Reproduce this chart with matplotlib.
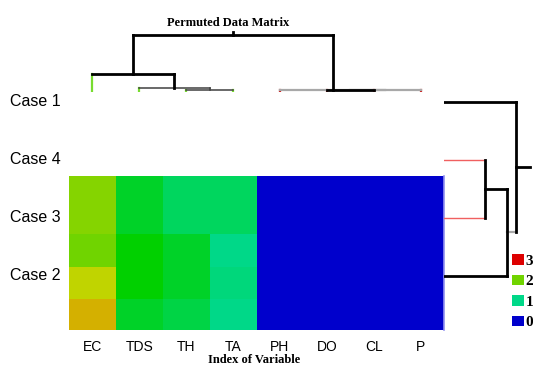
import matplotlib

matplotlib.use("Agg")

import matplotlib.pyplot as plt
import numpy as np
from matplotlib.colors import LinearSegmentedColormap, Normalize
from matplotlib.patches import Patch
from matplotlib.transforms import blended_transform_factory

VARIABLES = ["EC", "TDS", "TH", "TA", "PH", "DO", "CL", "P"]
CASES = ["Case 1", "Case 4", "Case 3", "Case 2"]

# matrix levels (0..3), top row first
LEVELS = [
    [2.10, 1.35, 1.15, 1.15, 0.0, 0.0, 0.0, 0.0],
    [2.00, 1.50, 1.35, 1.00, 0.0, 0.0, 0.0, 0.0],
    [2.40, 1.50, 1.35, 1.05, 0.0, 0.0, 0.0, 0.0],
    [2.60, 1.35, 1.25, 1.00, 0.0, 0.0, 0.0, 0.0],
]
ROW_SPANS = [58, 33, 32, 31]
LEGEND_LEVELS = [3, 2, 1, 0]

COLOR_STOPS = [
    (0.0, "#0000cc"),
    (1.0, "#00d888"),
    (1.5, "#00d000"),
    (2.0, "#70d400"),
    (2.4, "#c0d400"),
    (2.6, "#d4b000"),
    (3.0, "#dd0000"),
]

# dendrograms: (left node, right node, merge height); new nodes numbered after leaves
COL_MERGES = [(2, 3, 0.5), (1, 8, 2.0), (0, 9, 16.0), (5, 6, 0.1), (11, 7, 0.2), (4, 12, 0.3), (10, 13, 55.0)]
COL_LEAF_HEIGHT = -1.0
COL_ROOT_TOP = 58.0
ROW_MERGES = [(1, 2, 41.0), (4, 3, 63.0), (0, 5, 72.0)]
ROW_LEAF_HEIGHT = 0.0
ROW_ROOT_TOP = 86.0

BLACK = ("#000000", 2.0, 3)
DARK = ("#404040", 1.1, 2)
GREY = ("#a8a8a8", 1.6, 1)
GREEN = ("#78dc30", 1.6, 2)
RED = ("#cc2020", 1.6, 1)
PINK = ("#f06060", 1.0, 2)

COL_LINK = {0: GREEN, 1: GREEN, 2: GREEN, 3: GREEN, 4: RED, 5: RED, 6: RED, 7: RED,
            8: DARK, 9: BLACK, 10: BLACK, 11: BLACK, 12: GREY, 13: BLACK, 14: BLACK}
COL_BAR = {8: DARK, 9: DARK, 10: BLACK, 11: BLACK, 12: GREY, 13: GREY, 14: BLACK}
ROW_LINK = {0: BLACK, 1: PINK, 2: PINK, 3: BLACK, 4: BLACK, 5: GREY, 6: BLACK}
ROW_BAR = {4: BLACK, 5: BLACK, 6: BLACK}

SERIF = "Liberation Serif"
SANS = "Liberation Sans"


def draw_dendrogram(ax, merges, n_leaves, leaf_height, root_top, link_style, bar_style, vertical):
    pos = {i: i + (0.5 if vertical else 0.0) for i in range(n_leaves)}
    height = {i: leaf_height for i in range(n_leaves)}

    def seg(p0, h0, p1, h1, style):
        color, lw, z = style
        if vertical:
            ax.plot([p0, p1], [h0, h1], color=color, linewidth=lw, zorder=z)
        else:
            ax.plot([h0, h1], [p0, p1], color=color, linewidth=lw, zorder=z)

    node = n_leaves
    for a, b, h in merges:
        for child in (a, b):
            seg(pos[child], height[child], pos[child], h, link_style[child])
        seg(pos[a], h, pos[b], h, bar_style[node])
        pos[node] = (pos[a] + pos[b]) / 2
        height[node] = h
        node += 1
    root = node - 1
    seg(pos[root], height[root], pos[root], root_top, link_style[root])


fig = plt.figure(figsize=(5.33, 3.67), dpi=100)
W, H = 533, 367


def box(x0, y0, x1, y1):
    return [x0 / W, 1 - y1 / H, (x1 - x0) / W, (y1 - y0) / H]


cmap = LinearSegmentedColormap.from_list("levels", [(v / 3.0, c) for v, c in COLOR_STOPS])
norm = Normalize(0, 3)

# data matrix
ax = fig.add_axes(box(69, 176, 444, 330))
y_edges = np.concatenate([[0], np.cumsum(ROW_SPANS)])
ax.pcolormesh(np.arange(len(VARIABLES) + 1), y_edges, np.array(LEVELS), cmap=cmap, norm=norm)
ax.set_xlim(0, len(VARIABLES))
ax.set_ylim(y_edges[-1], 0)
ax.set_xticks(np.arange(len(VARIABLES)) + 0.5)
ax.set_xticklabels(VARIABLES, fontfamily=SANS, fontsize=10)
ax.tick_params(axis="x", length=0, pad=7)
ax.set_yticks([])
for name, spine in ax.spines.items():
    spine.set_visible(name == "right")
ax.spines["right"].set_color("#9090f0")
ax.spines["right"].set_linewidth(1.2)

# column dendrogram
ax_col = fig.add_axes(box(69, 28, 444, 92))
draw_dendrogram(ax_col, COL_MERGES, len(VARIABLES), COL_LEAF_HEIGHT, COL_ROOT_TOP, COL_LINK, COL_BAR, True)
ax_col.set_xlim(0, len(VARIABLES))
ax_col.set_ylim(-2, 62)
ax_col.axis("off")

# row dendrogram
ax_row = fig.add_axes(box(444, 73, 533, 305))
draw_dendrogram(ax_row, ROW_MERGES, len(CASES), ROW_LEAF_HEIGHT, ROW_ROOT_TOP, ROW_LINK, ROW_BAR, False)
ax_row.set_xlim(0, 89)
ax_row.set_ylim(len(CASES) - 0.5, -0.5)
ax_row.axis("off")

label_tf = blended_transform_factory(fig.transFigure, ax_row.transData)
for i, case in enumerate(CASES):
    ax_row.text(10 / W, i, case, transform=label_tf, ha="left", va="center",
                fontfamily=SANS, fontsize=11.5, clip_on=False)

fig.text(228 / W, 1 - 23 / H, "Permuted Data Matrix", ha="center", va="center",
         fontfamily=SERIF, fontweight="bold", fontsize=9)
fig.text(254 / W, 1 - 360 / H, "Index of Variable", ha="center", va="center",
         fontfamily=SERIF, fontweight="bold", fontsize=9)

handles = [Patch(facecolor=cmap(norm(v)), edgecolor="none") for v in LEGEND_LEVELS]
fig.legend(handles, [str(v) for v in LEGEND_LEVELS], loc="upper left",
           bbox_to_anchor=(512 / W, 1 - 254 / H), frameon=False,
           prop={"family": SERIF, "weight": "bold", "size": 11},
           handlelength=0.8, handleheight=0.7, handletextpad=0.1,
           labelspacing=0.45, borderpad=0, borderaxespad=0)

fig.savefig("out.png", dpi=100)
